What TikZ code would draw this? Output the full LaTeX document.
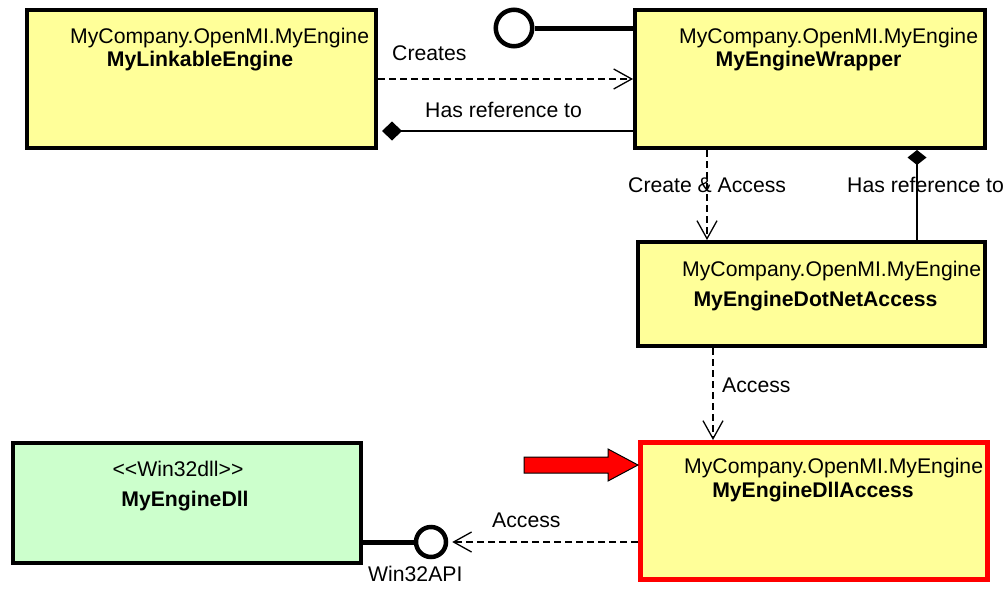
\documentclass[tikz,border=0pt]{standalone}
\usepackage{fontspec}
\setmainfont{Liberation Sans}
\usetikzlibrary{arrows.meta}
\definecolor{classyellow}{RGB}{255,255,153}
\definecolor{dllgreen}{RGB}{204,255,204}

\begin{document}
\begin{tikzpicture}[x=1pt,y=-1pt,
  every node/.style={font=\fontsize{21.2}{25}\selectfont, inner sep=0pt},
  classbox/.style={draw=black, line width=4pt, fill=classyellow, inner sep=0pt},
  nsname/.style={anchor=base west},
  classname/.style={anchor=base, font=\fontsize{21.2}{25}\selectfont\bfseries},
  lbl/.style={anchor=base west},
  lolli/.style={circle, draw=black, line width=4.5pt, fill=white},
  thinline/.style={line width=1.3pt},
  dashline/.style={line width=1.3pt, dash pattern=on 7pt off 4pt},
  barb/.style={-{Straight Barb[length=18pt,width=20pt,line width=1.3pt]}},
  holder/.style={{Diamond[length=#1,width=19pt]}-},
  holder/.default=20pt,
  socketline/.style={line width=5pt},
]
\useasboundingbox (0,0) rectangle (1008,592);

% class boxes
\node[classbox, minimum width=349pt, minimum height=138pt] (linkable) at (201.5,79) {};
\node[classbox, minimum width=350pt, minimum height=138pt] (wrapper) at (810,79) {};
\node[classbox, minimum width=347pt, minimum height=104pt] (dotnet) at (811.5,294) {};
\node[classbox, draw=red, line width=5pt, minimum width=347pt, minimum height=137pt] (dllaccess) at (814,511) {};
\node[classbox, fill=dllgreen, minimum width=348pt, minimum height=120pt] (dll) at (187,503) {};

% box texts
\node[nsname] (linkablens) at (70,43) {MyCompany.OpenMI.MyEngine};
\node[classname] (linkablename) at (200,66) {MyLinkableEngine};
\node[nsname] (wrapperns) at (679,43) {MyCompany.OpenMI.MyEngine};
\node[classname] (wrappername) at (808.5,66) {MyEngineWrapper};
\node[nsname] (dotnetns) at (682,276) {MyCompany.OpenMI.MyEngine};
\node[classname] (dotnetname) at (815.5,306) {MyEngineDotNetAccess};
\node[nsname] (dllaccessns) at (684,473) {MyCompany.OpenMI.MyEngine};
\node[classname] (dllaccessname) at (813,497) {MyEngineDllAccess};
\node[anchor=base] (dllstereo) at (178,476) {{<}{<}Win32dll{>}{>}};
\node[classname] (dllname) at (185,506) {MyEngineDll};

% interfaces
\node[lolli, minimum size=36.5pt] (ifacetop) at (514,28) {};
\node[lolli, minimum size=30pt] (api) at (431,542) {};
\draw[socketline] (ifacetop.east) -- (wrapper.west |- ifacetop.east);
\draw[socketline] (dll.east |- api.west) -- (api.west);

% connectors
\draw[dashline, barb] (linkable.east) -- (wrapper.west);
\draw[thinline, holder, shorten <=4pt] ([yshift=-52pt]linkable.east) -- ([yshift=-52pt]wrapper.west);
\draw[dashline, barb] ([xshift=-103pt]wrapper.south) -- ([xshift=-103pt]wrapper.south |- dotnet.north);
\draw[thinline, holder=15pt] ([xshift=107pt]wrapper.south) -- ([xshift=107pt]wrapper.south |- dotnet.north);
\draw[dashline, barb] ([xshift=-98.5pt]dotnet.south) -- ([xshift=-98.5pt]dotnet.south |- dllaccess.north);
\draw[dashline, barb, shorten >=4pt] (dllaccess.west |- api.east) -- (api.east);

% connector labels
\node[lbl] (lblcreates) at (392,60) {Creates};
\node[lbl] (lblref1) at (425,117) {Has reference to};
\node[lbl] (lblcreateaccess) at (628,192) {Create \& Access};
\node[lbl] (lblref2) at (847,192) {Has reference to};
\node[lbl] (lblaccess1) at (722,392) {Access};
\node[lbl] (lblaccess2) at (492,527) {Access};
\node[lbl] (lblapi) at (368,581) {Win32API};

% highlight arrow
\draw[line width=1pt, fill=red] ([yshift=46pt]dllaccess.west) -- ++(-30,-16) -- ++(0,8)
  -- ++(-84,0) -- ++(0,16) -- ++(84,0) -- ++(0,8) -- cycle;
\end{tikzpicture}
\end{document}
